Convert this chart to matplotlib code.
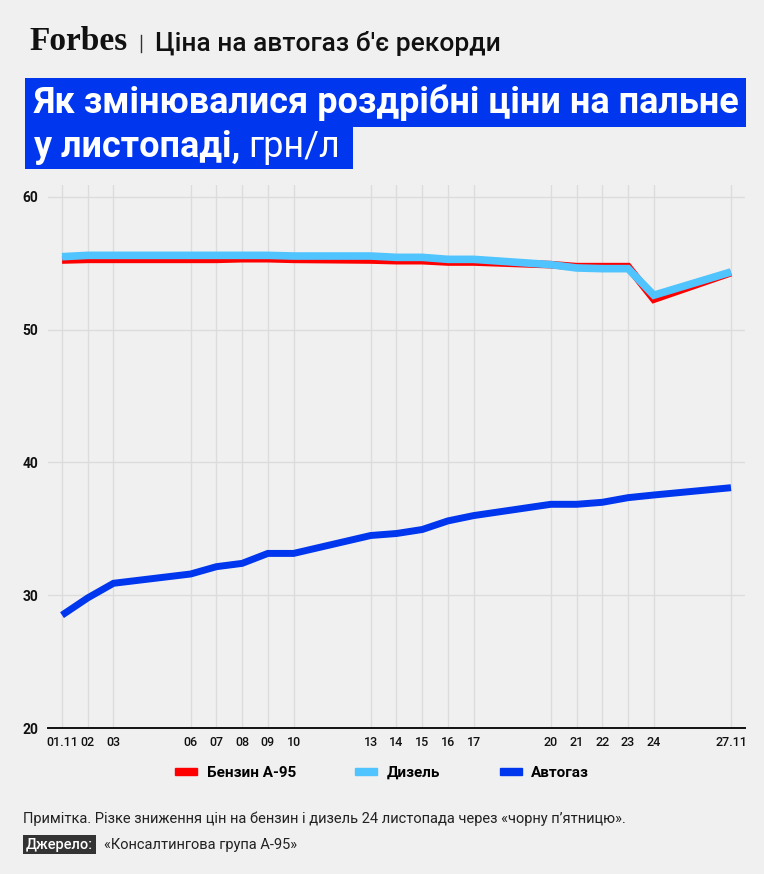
import matplotlib.pyplot as plt
from matplotlib.patches import Rectangle, Patch
from matplotlib.lines import Line2D

# data (UAH per litre, November)
days = [1, 2, 3, 6, 7, 8, 9, 10, 13, 14, 15, 16, 17, 20, 21, 22, 23, 24, 27]
day_labels = ['01.11', '02', '03', '06', '07', '08', '09', '10', '13', '14',
              '15', '16', '17', '20', '21', '22', '23', '24', '27.11']
petrol = [55.25, 55.3, 55.3, 55.3, 55.3, 55.35, 55.35, 55.3, 55.25, 55.2,
          55.2, 55.1, 55.1, 54.9, 54.75, 54.75, 54.75, 52.3, 54.3]
diesel = [55.5, 55.6, 55.6, 55.6, 55.6, 55.6, 55.6, 55.55, 55.55, 55.45,
          55.45, 55.3, 55.3, 54.9, 54.65, 54.6, 54.6, 52.6, 54.35]
autogas = [28.5, 29.8, 30.9, 31.6, 32.15, 32.4, 33.15, 33.15, 34.5, 34.65,
           34.95, 35.6, 36.0, 36.85, 36.85, 37.0, 37.35, 37.55, 38.1]
y_ticks = [20, 30, 40, 50, 60]

series_names = ['Бензин А-95', 'Дизель', 'Автогаз']
series_colors = ['#ff0000', '#50c4ff', '#0036ee']

BG = '#f0f0f0'
W, H = 764, 874
plt.rcParams['font.family'] = ['Roboto', 'DejaVu Sans']


def fx(px):
    return px / W


def fy(py):
    return 1 - py / H


fig = plt.figure(figsize=(W / 100, H / 100), dpi=100, facecolor=BG)

# header
fig.text(fx(29), fy(42), 'Forbes', family='Liberation Serif', weight='bold',
         fontsize=24, va='center', ha='left', color='#111111')
fig.add_artist(Line2D([fx(141), fx(141)], [fy(35), fy(52)], color='#333333', lw=1))
fig.text(fx(155), fy(44), 'Ціна на автогаз б\'є рекорди', fontsize=19,
         weight='medium', va='center', ha='left', color='#111111')

# blue title boxes
title_blue = '#0036ee'
fig.add_artist(Rectangle((fx(25), fy(127)), fx(746) - fx(25), fy(78) - fy(127),
                         transform=fig.transFigure, color=title_blue, lw=0))
fig.add_artist(Rectangle((fx(25), fy(169)), fx(353) - fx(25), fy(127) - fy(169),
                         transform=fig.transFigure, color=title_blue, lw=0))
fig.text(fx(34), fy(113), 'Як змінювалися роздрібні ціни на пальне', fontsize=25.9,
         weight='bold', color='white', va='baseline', ha='left')
t2 = fig.text(fx(34), fy(157), 'у листопаді,', fontsize=25.9, weight='bold',
              color='white', va='baseline', ha='left')
fig.canvas.draw()
t2_end = t2.get_window_extent().x1
fig.text(fx(t2_end + 8), fy(157), 'грн/л', fontsize=25.9, color='white',
         va='baseline', ha='left')

# chart
ax = fig.add_axes([fx(48), fy(728), fx(745) - fx(48), fy(185) - fy(728)])
ax.set_facecolor(BG)
ax.plot(days, autogas, color=series_colors[2], lw=5, solid_joinstyle='miter',
        solid_capstyle='butt', zorder=3)
ax.plot(days, petrol, color=series_colors[0], lw=5.5, solid_joinstyle='miter',
        solid_capstyle='butt', zorder=3)
ax.plot(days, diesel, color=series_colors[1], lw=5.5, solid_joinstyle='miter',
        solid_capstyle='butt', zorder=4)

ax.set_xlim(days[0] - 14 / 25.7, days[-1] + 14 / 25.7)
ax.set_ylim(20, 60.9)
ax.set_xticks(days)
ax.set_xticklabels(day_labels)
ax.set_yticks(y_ticks)
ax.tick_params(axis='both', length=0, colors='#111111')
ax.tick_params(axis='x', pad=6, labelsize=9)
ax.tick_params(axis='y', pad=7, labelsize=10)
for lab in ax.get_xticklabels():
    lab.set_fontweight('medium')
for lab in ax.get_yticklabels():
    lab.set_fontweight('bold')
ax.grid(True, color='#dcdcdc', lw=1)
ax.set_axisbelow(True)
for s in ['top', 'right', 'left']:
    ax.spines[s].set_visible(False)
ax.spines['bottom'].set_color('#111111')
ax.spines['bottom'].set_linewidth(1.4)

# legend
handles = [Patch(color=c) for c in series_colors]
fig.legend(handles, series_names, loc='center', bbox_to_anchor=(fx(382), fy(773)),
           ncol=3, frameon=False, handlelength=1.45, handleheight=0.4,
           handletextpad=0.6, columnspacing=3.9,
           prop={'weight': 'semibold', 'size': 11})

# footer
fig.text(fx(23), fy(819), 'Примітка. Різке зниження цін на бензин і дизель 24 листопада через «чорну п\u2019ятницю».',
         fontsize=10.5, color='#222222', va='center', ha='left')
fig.add_artist(Rectangle((fx(23), fy(854)), fx(96) - fx(23), fy(835) - fy(854),
                         transform=fig.transFigure, color='#333333', lw=0))
fig.text(fx(59.5), fy(845), 'Джерело:', fontsize=10.5, color='white', weight='medium',
         va='center', ha='center')
fig.text(fx(104), fy(845), '«Консалтингова група А-95»', fontsize=10.5,
         color='#222222', va='center', ha='left')

fig.savefig('out.png', dpi=100, facecolor=BG)
